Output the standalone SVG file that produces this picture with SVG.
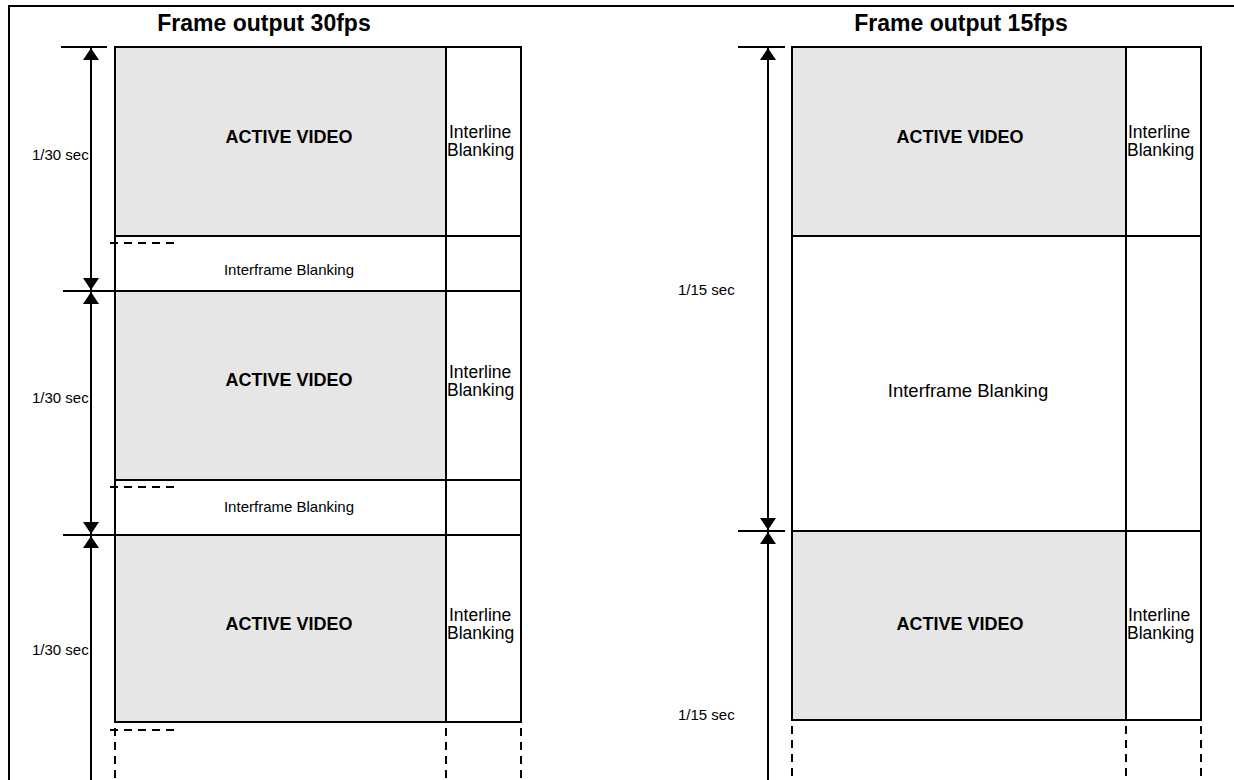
<svg xmlns="http://www.w3.org/2000/svg" width="1234" height="780" viewBox="0 0 1234 780">
<defs>
<style>
.ln{stroke:#000;stroke-width:2;fill:none}
.dash{stroke:#000;stroke-width:2;fill:none;stroke-dasharray:8 6}
.av{fill:#e6e6e6;stroke:#000;stroke-width:2}
.box{fill:#fff;stroke:#000;stroke-width:2}
.t{font-family:"Liberation Sans",Arial,sans-serif;font-size:15px;fill:#000}
.il{font-family:"Liberation Sans",Arial,sans-serif;font-size:17.5px;fill:#000}
.ib{font-family:"Liberation Sans",Arial,sans-serif;font-size:18.5px;fill:#000}
.b{font-family:"Liberation Sans",Arial,sans-serif;font-size:18px;font-weight:bold;fill:#000}
.h{font-family:"Liberation Sans",Arial,sans-serif;font-size:23px;font-weight:bold;fill:#000}
</style>
<marker id="ah" viewBox="0 0 12 16" refX="12" refY="8" markerWidth="12" markerHeight="16" markerUnits="userSpaceOnUse" orient="auto">
<path d="M0,0 L12,8 L0,16 Z" fill="#000"/>
</marker>
</defs>
<rect width="1234" height="780" fill="#fff"/>
<g id="frame">
<path class="ln" d="M9,780 V6 H1234" stroke-width="2.5"/>
<text class="h" x="264" y="31" text-anchor="middle">Frame output 30fps</text>
<text class="h" x="961" y="31" text-anchor="middle">Frame output 15fps</text>
</g>

<g id="left-frame1">
<rect class="av" x="115" y="47" width="331" height="189"/>
<rect class="box" x="446" y="47" width="75" height="189"/>
<text class="b" x="289" y="143" text-anchor="middle">ACTIVE VIDEO</text>
<text class="il" x="449" y="138">Interline</text>
<text class="il" x="447" y="156">Blanking</text>
</g>
<g id="left-blank1">
<rect class="box" x="115" y="236" width="331" height="55"/>
<rect class="box" x="446" y="236" width="75" height="55"/>
<text class="t" x="289" y="275" text-anchor="middle">Interframe Blanking</text>
</g>
<g id="left-frame2">
<rect class="av" x="115" y="291" width="331" height="189"/>
<rect class="box" x="446" y="291" width="75" height="189"/>
<text class="b" x="289" y="386" text-anchor="middle">ACTIVE VIDEO</text>
<text class="il" x="449" y="378">Interline</text>
<text class="il" x="447" y="396">Blanking</text>
</g>
<g id="left-blank2">
<rect class="box" x="115" y="480" width="331" height="55"/>
<rect class="box" x="446" y="480" width="75" height="55"/>
<text class="t" x="289" y="512" text-anchor="middle">Interframe Blanking</text>
</g>
<g id="left-frame3">
<rect class="av" x="115" y="535" width="331" height="187"/>
<rect class="box" x="446" y="535" width="75" height="187"/>
<text class="b" x="289" y="630" text-anchor="middle">ACTIVE VIDEO</text>
<text class="il" x="449" y="621">Interline</text>
<text class="il" x="447" y="639">Blanking</text>
</g>

<g id="right-frame1">
<rect class="av" x="792" y="47" width="334" height="189"/>
<rect class="box" x="1126" y="47" width="75" height="189"/>
<text class="b" x="960" y="143" text-anchor="middle">ACTIVE VIDEO</text>
<text class="il" x="1128" y="138">Interline</text>
<text class="il" x="1127" y="156">Blanking</text>
</g>
<g id="right-blank">
<rect class="box" x="792" y="236" width="334" height="295"/>
<rect class="box" x="1126" y="236" width="75" height="295"/>
<text class="ib" x="968" y="397" text-anchor="middle">Interframe Blanking</text>
</g>
<g id="right-frame2">
<rect class="av" x="792" y="531" width="334" height="189"/>
<rect class="box" x="1126" y="531" width="75" height="189"/>
<text class="b" x="960" y="630" text-anchor="middle">ACTIVE VIDEO</text>
<text class="il" x="1128" y="621">Interline</text>
<text class="il" x="1127" y="639">Blanking</text>
</g>
<path class="ln" d="M792,531 H1201" stroke-width="3"/>

<g id="connectors">
<path class="ln" d="M61,47 H107 M63,291 H115 M63,535 H115"/>
<path class="ln" d="M91,167 V48" marker-end="url(#ah)"/>
<path class="ln" d="M91,167 V290" marker-end="url(#ah)"/>
<path class="ln" d="M91,410 V292" marker-end="url(#ah)"/>
<path class="ln" d="M91,410 V534" marker-end="url(#ah)"/>
<path class="ln" d="M91,780 V536" marker-end="url(#ah)"/>
<path class="ln" d="M738,47 H785 M738,531 H785"/>
<path class="ln" d="M768,290 V48" marker-end="url(#ah)"/>
<path class="ln" d="M768,290 V530" marker-end="url(#ah)"/>
<path class="ln" d="M768,780 V532" marker-end="url(#ah)"/>
<path class="dash" d="M110,243 H180 M110,487 H180 M110,730 H180"/>
<path class="dash" d="M115,728 V780 M446,728 V780 M521,728 V780"/>
<path class="dash" d="M792,726 V780 M1126,726 V780 M1201,726 V780"/>
</g>

<g id="labels">
<text class="t" x="32" y="160">1/30 sec</text>
<text class="t" x="32" y="403">1/30 sec</text>
<text class="t" x="32" y="655">1/30 sec</text>
<text class="t" x="678" y="295">1/15 sec</text>
<text class="t" x="678" y="720">1/15 sec</text>
</g>
</svg>
